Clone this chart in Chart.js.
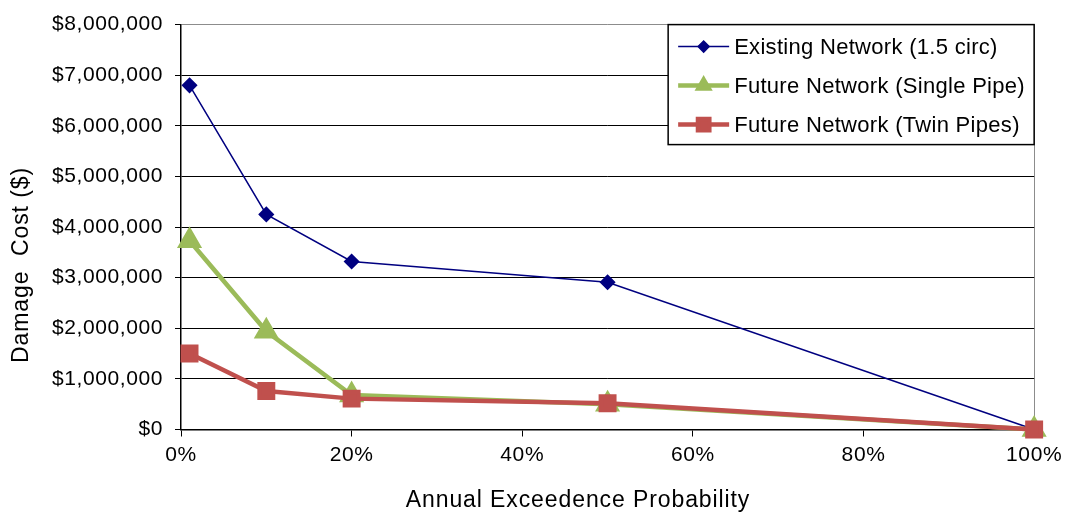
<!DOCTYPE html>
<html lang="en">
<head>
    <meta charset="UTF-8">
    <title>Damage Cost vs Annual Exceedence Probability</title>
    <script src="https://cdn.jsdelivr.net/npm/chart.js"></script>
    <style>
        html, body { margin: 0; padding: 0; background: #fff; }
        #wrap { width: 1067px; height: 516px; }
    </style>
</head>
<body>
    <div id="wrap"><canvas id="damageChart" width="1067" height="516"></canvas></div>
    <script>
        // Annual exceedence probability (%) of each design event
        const aep = [1, 10, 20, 50, 100];

        const existingNetwork = [6800000, 4250000, 3320000, 2910000, 0];
        const singlePipe = [3730000, 1940000, 680000, 500000, 0];
        const twinPipes = [1500000, 760000, 610000, 520000, 0];

        const seriesLabels = [
            'Existing Network (1.5 circ)',
            'Future Network (Single Pipe)',
            'Future Network (Twin Pipes)'
        ];

        const xTitle = 'Annual Exceedence Probability';
        const yTitle = 'Damage  Cost ($)';

        const fontFamily = '"Liberation Sans", Arial, sans-serif';

        function toPoints(values) {
            return aep.map((x, i) => ({ x: x, y: values[i] }));
        }

        // Excel's text is a bit wider than Arial, spread the tick labels a touch
        const spacing = {
            id: 'spacing',
            beforeDraw(chart) {
                chart.ctx.letterSpacing = '0.6px';
            }
        };

        // legend box + axis titles sit where Excel put them, so draw them by hand
        const decorations = {
            id: 'decorations',
            afterDraw(chart) {
                const ctx = chart.ctx;
                const area = chart.chartArea;
                ctx.save();

                // legend
                const boxW = 366, boxH = 120;
                const bx = area.right - boxW, by = area.top;
                ctx.fillStyle = '#fff';
                ctx.fillRect(bx, by, boxW, boxH);
                ctx.strokeStyle = '#000';
                ctx.lineWidth = 1.5;
                ctx.strokeRect(bx, by, boxW, boxH);

                ctx.font = '22px ' + fontFamily;
                ctx.letterSpacing = '0.3px';
                ctx.textBaseline = 'middle';
                ctx.textAlign = 'left';
                chart.data.datasets.forEach((ds, i) => {
                    const rowY = by + 22 + i * 39;
                    ctx.strokeStyle = ds.borderColor;
                    ctx.lineWidth = ds.borderWidth;
                    ctx.beginPath();
                    ctx.moveTo(bx + 10, rowY);
                    ctx.lineTo(bx + 61, rowY);
                    ctx.stroke();
                    ctx.fillStyle = ds.pointBackgroundColor;
                    ctx.strokeStyle = ds.pointBorderColor;
                    Chart.helpers.drawPoint(ctx, {
                        pointStyle: ds.pointStyle,
                        radius: ds.legendRadius,
                        rotation: 0,
                        borderWidth: 1
                    }, bx + 35.5, rowY);
                    ctx.fillStyle = '#000';
                    ctx.fillText(ds.label, bx + 66, rowY + 1);
                });

                // axis titles
                ctx.fillStyle = '#000';
                ctx.font = '23px ' + fontFamily;
                ctx.letterSpacing = '0.9px';
                ctx.textAlign = 'center';
                ctx.textBaseline = 'alphabetic';
                ctx.fillText(xTitle, 578, 507);

                ctx.translate(28, 265);
                ctx.rotate(-Math.PI / 2);
                ctx.fillText(yTitle, 0, 0);
                ctx.restore();
            }
        };

        const ctx = document.getElementById('damageChart').getContext('2d');

        const damageChart = new Chart(ctx, {
            type: 'scatter',
            data: {
                datasets: [
                    {
                        label: seriesLabels[0],
                        data: toPoints(existingNetwork),
                        showLine: true,
                        borderColor: '#000080',
                        borderWidth: 1.5,
                        pointStyle: 'rectRot',
                        pointRadius: 7,
                        legendRadius: 5.5,
                        pointBackgroundColor: '#000080',
                        pointBorderColor: '#000080',
                        clip: false,
                        order: 2
                    },
                    {
                        label: seriesLabels[1],
                        data: toPoints(singlePipe),
                        showLine: true,
                        borderColor: '#9BBB59',
                        borderWidth: 4.5,
                        pointStyle: 'triangle',
                        pointRadius: 10,
                        legendRadius: 6,
                        pointBackgroundColor: '#9BBB59',
                        pointBorderColor: '#9BBB59',
                        clip: false,
                        order: 1
                    },
                    {
                        label: seriesLabels[2],
                        data: toPoints(twinPipes),
                        showLine: true,
                        borderColor: '#C0504D',
                        borderWidth: 4.5,
                        pointStyle: 'rect',
                        pointRadius: 9.5,
                        legendRadius: 8,
                        pointBackgroundColor: '#C0504D',
                        pointBorderColor: '#C0504D',
                        clip: false,
                        order: 0
                    }
                ]
            },
            options: {
                responsive: false,
                animation: false,
                layout: {
                    padding: { top: 22.5, right: 30, bottom: 0, left: 0 }
                },
                plugins: {
                    legend: { display: false },
                    tooltip: { enabled: false }
                },
                elements: {
                    line: { tension: 0 }
                },
                scales: {
                    x: {
                        type: 'linear',
                        min: 0,
                        max: 100,
                        afterFit: (scale) => { scale.height = 86.5; },
                        ticks: {
                            stepSize: 20,
                            color: '#000',
                            padding: 6,
                            font: { family: fontFamily, size: 21 },
                            callback: (v) => v + '%'
                        },
                        grid: {
                            color: (c) => c.tick && c.tick.value === 100 ? '#8c8c8c' : 'rgba(0,0,0,0)',
                            tickColor: '#000',
                            tickLength: 7,
                            lineWidth: 1
                        },
                        border: { color: '#000', width: 1.5 }
                    },
                    y: {
                        min: 0,
                        max: 8000000,
                        afterFit: (scale) => { scale.width = 181; },
                        ticks: {
                            stepSize: 1000000,
                            color: '#000',
                            padding: 12,
                            font: { family: fontFamily, size: 21 },
                            callback: (v) => '$' + v.toLocaleString('en-US')
                        },
                        grid: {
                            color: (c) => c.tick && c.tick.value === 8000000 ? '#8c8c8c' : '#000',
                            tickColor: '#000',
                            tickLength: 6,
                            lineWidth: 1
                        },
                        border: { color: '#000', width: 1.5 }
                    }
                }
            },
            plugins: [spacing, decorations]
        });
    </script>
</body>
</html>
